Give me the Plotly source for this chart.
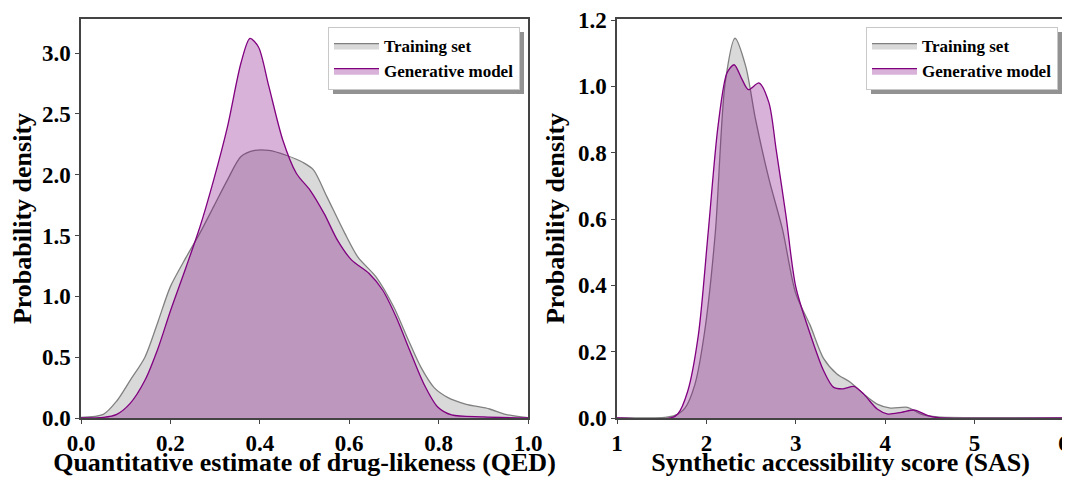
import plotly.graph_objects as go

# ---- QED (left panel) ----
qed_train_x = [0.0, 0.05, 0.08, 0.11, 0.143, 0.173, 0.2, 0.235, 0.266, 0.297, 0.328, 0.358, 0.389, 0.42,
               0.459, 0.497, 0.52, 0.55, 0.59, 0.62, 0.66, 0.70, 0.73, 0.76, 0.79, 0.82, 0.86, 0.914, 0.95, 1.0]
qed_train_y = [0.005, 0.03, 0.14, 0.31, 0.5, 0.8, 1.08, 1.32, 1.52, 1.74, 1.96, 2.15, 2.2, 2.2,
               2.16, 2.1, 2.04, 1.82, 1.52, 1.32, 1.16, 0.91, 0.66, 0.42, 0.25, 0.17, 0.115, 0.074, 0.03, 0.003]

qed_gen_x = [0.0, 0.05, 0.08, 0.11, 0.143, 0.173, 0.2, 0.235, 0.266, 0.297, 0.328, 0.358, 0.378, 0.397,
             0.42, 0.451, 0.482, 0.513, 0.544, 0.574, 0.605, 0.644, 0.675, 0.705, 0.736, 0.767, 0.798, 0.829,
             0.9, 1.0]
qed_gen_y = [0.0, 0.005, 0.03, 0.12, 0.31, 0.58, 0.88, 1.24, 1.57, 1.96, 2.4, 2.92, 3.12, 3.05,
             2.73, 2.29, 2.01, 1.87, 1.68, 1.46, 1.3, 1.19, 1.05, 0.83, 0.55, 0.28, 0.09, 0.025,
             0.01, 0.0]

# ---- SAS (right panel) ----
sas_train_x = [1.0, 1.53, 1.64, 1.76, 1.87, 1.98, 2.1, 2.21, 2.32, 2.44, 2.55, 2.7, 2.85, 3.0, 3.16,
               3.31, 3.46, 3.61, 3.76, 3.91, 4.06, 4.25, 4.4, 4.59, 5.05, 5.42, 6.0]
sas_train_y = [0.0, 0.002, 0.007, 0.03, 0.1, 0.26, 0.56, 1.01, 1.145, 1.06, 0.9, 0.72, 0.57, 0.375, 0.28,
               0.18, 0.133, 0.108, 0.072, 0.042, 0.03, 0.032, 0.012, 0.003, 0.001, 0.001, 0.0]

sas_gen_x = [1.0, 1.6, 1.68, 1.79, 1.91, 2.02, 2.13, 2.23, 2.31, 2.4, 2.47, 2.59, 2.7, 2.78, 2.89, 3.0,
             3.16, 3.31, 3.42, 3.53, 3.65, 3.76, 3.91, 4.03, 4.18, 4.33, 4.48, 4.59, 6.0]
sas_gen_y = [0.0, 0.0, 0.012, 0.08, 0.25, 0.56, 0.88, 1.04, 1.065, 1.02, 0.99, 1.01, 0.95, 0.81, 0.61, 0.395,
             0.254, 0.143, 0.093, 0.088, 0.095, 0.072, 0.027, 0.012, 0.017, 0.024, 0.007, 0.001, 0.0]

series_names = ["Training set", "Generative model"]
x_ticks_qed = [0.0, 0.2, 0.4, 0.6, 0.8, 1.0]
y_ticks_qed = [0.0, 0.5, 1.0, 1.5, 2.0, 2.5, 3.0]
x_ticks_sas = [1, 2, 3, 4, 5, 6]
y_ticks_sas = [0.0, 0.2, 0.4, 0.6, 0.8, 1.0, 1.2]

FONT = "Liberation Serif, Times New Roman, serif"
GRAY_LINE = "rgb(128,128,128)"
GRAY_FILL = "rgba(128,128,128,0.3)"
PURP_LINE = "rgb(128,0,128)"
PURP_FILL = "rgba(128,0,128,0.3)"
AX_COLOR = "#444444"

# page body has an 8px margin; work in screen pixels and convert
OFF = 8
W, H = 1070 - OFF, 477 - OFF

def px(v):
    return (v - OFF) / W

def py(v):
    return 1 - (v - OFF) / H

fig = go.Figure()

def b(s):
    return "<b>" + s + "</b>"

def add_pair(xt, yt, xg, yg, xa, ya, leg):
    fig.add_trace(go.Scatter(x=xt, y=yt, mode="lines", fill="tozeroy", name=b(series_names[0]),
                             line=dict(color=GRAY_LINE, width=1.3, shape="spline", smoothing=0.8),
                             fillcolor=GRAY_FILL, xaxis=xa, yaxis=ya, legend=leg, hoverinfo="skip"))
    fig.add_trace(go.Scatter(x=xg, y=yg, mode="lines", fill="tozeroy", name=b(series_names[1]),
                             line=dict(color=PURP_LINE, width=1.3, shape="spline", smoothing=0.8),
                             fillcolor=PURP_FILL, xaxis=xa, yaxis=ya, legend=leg, hoverinfo="skip"))

add_pair(qed_train_x, qed_train_y, qed_gen_x, qed_gen_y, "x", "y", "legend")
add_pair(sas_train_x, sas_train_y, sas_gen_x, sas_gen_y, "x2", "y2", "legend2")

tickfont = dict(family=FONT, size=23, color="black")
titlefont = dict(family=FONT, size=26, color="black")

common_axis = dict(showline=True, linecolor=AX_COLOR, linewidth=1.5, mirror=True,
                   ticks="outside", ticklen=4, tickwidth=1.2, tickcolor=AX_COLOR,
                   showgrid=False, zeroline=False, tickfont=tickfont, automargin=False)

YDOM = [py(418), py(19)]

legend_common = dict(xanchor="right", yanchor="top", bgcolor="white", bordercolor="#c8c8c8",
                     borderwidth=1, font=dict(family=FONT, size=17, color="black"),
                     itemwidth=45, tracegroupgap=0)

fig.update_layout(
    width=W, height=H,
    margin=dict(l=0, r=0, t=0, b=0),
    paper_bgcolor="white", plot_bgcolor="white",
    xaxis=dict(domain=[px(81), px(528)], range=[0, 1], tickvals=x_ticks_qed,
               ticktext=[b(f"{v:.1f}") for v in x_ticks_qed],
               title=dict(text=b("Quantitative estimate of drug-likeness (QED)"), font=titlefont, standoff=6),
               anchor="y", **common_axis),
    yaxis=dict(domain=YDOM, range=[0, 3.28], tickvals=y_ticks_qed,
               ticktext=[b(f"{v:.1f}") for v in y_ticks_qed],
               title=dict(text=b("Probability density"), font=titlefont, standoff=6),
               anchor="x", **common_axis),
    xaxis2=dict(domain=[px(617), px(1064)], range=[1, 6], tickvals=x_ticks_sas,
                ticktext=[b(str(v)) for v in x_ticks_sas],
                title=dict(text=b("Synthetic accessibility score (SAS)"), font=titlefont, standoff=6),
                anchor="y2", **common_axis),
    yaxis2=dict(domain=YDOM, range=[0, 1.203], tickvals=y_ticks_sas,
                ticktext=[b(f"{v:.1f}") for v in y_ticks_sas],
                title=dict(text=b("Probability density"), font=titlefont, standoff=6),
                anchor="x2", **common_axis),
    legend=dict(x=px(520), y=py(27), **legend_common),
    legend2=dict(x=px(1058), y=py(27), **legend_common),
    showlegend=True,
)

# legend drop shadows (drawn beneath the legend boxes)
for x0, x1 in [(333, 524), (871, 1062)]:
    fig.add_shape(type="rect", xref="paper", yref="paper",
                  x0=px(x0), x1=px(x1), y0=py(94), y1=py(32),
                  fillcolor="rgba(110,110,110,0.75)", line=dict(width=0), layer="above")

fig.write_html("out.html")
